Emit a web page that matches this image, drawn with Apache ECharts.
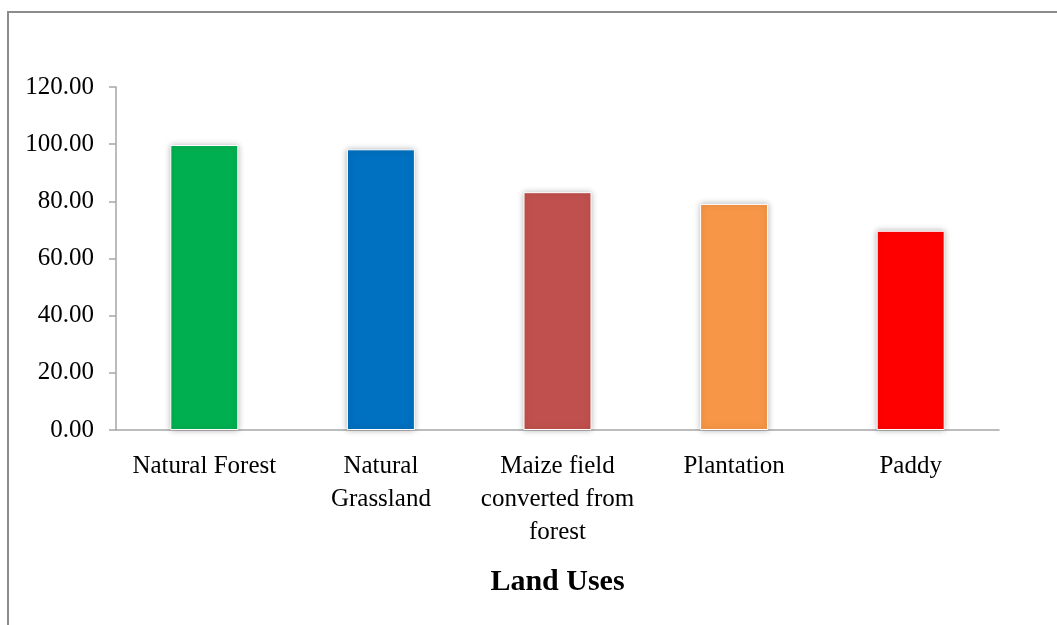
<!DOCTYPE html>
<html>
<head>
<meta charset="utf-8">
<script src="https://cdn.jsdelivr.net/npm/echarts@6/dist/echarts.min.js"></script>
<style>
  html, body { margin: 0; padding: 0; background: #fff; }
  #chart { width: 1057px; height: 625px; }
</style>
</head>
<body>
<div id="chart"></div>
<script>
const categories = ['Natural Forest', 'Natural\nGrassland', 'Maize field\nconverted from\nforest', 'Plantation', 'Paddy'];
const values = [99.7, 98.2, 83.2, 79.1, 69.7];
const barColors = ['#00B050', '#0070C0', '#C0504D', '#F79646', '#FF0000'];
const yTicks = { min: 0, max: 120, interval: 20 };
const xAxisTitle = 'Land Uses';

const chart = echarts.init(document.getElementById('chart'), null, { renderer: 'canvas' });
const serif = '"Liberation Serif", "Times New Roman", serif';

chart.setOption({
  animation: false,
  backgroundColor: '#ffffff',
  graphic: [{
    type: 'rect',
    shape: { x: 8, y: 12, width: 1200, height: 800 },
    style: { fill: 'none', stroke: '#8c8c8c', lineWidth: 2 },
    silent: true
  }],
  grid: { left: 116, right: 58, top: 87, bottom: 195, containLabel: false },
  xAxis: {
    type: 'category',
    data: categories,
    name: xAxisTitle,
    nameLocation: 'middle',
    nameGap: 137,
    nameTextStyle: { fontFamily: serif, fontSize: 30, fontWeight: 'bold', color: '#000', lineHeight: 30 },
    axisLine: { show: true, lineStyle: { color: '#a6a6a6', width: 1.5 } },
    axisTick: { show: false },
    axisLabel: { fontFamily: serif, fontSize: 25, color: '#000', lineHeight: 33, margin: 20, interval: 0, align: 'center' },
    splitLine: { show: false }
  },
  yAxis: {
    type: 'value',
    min: yTicks.min,
    max: yTicks.max,
    interval: yTicks.interval,
    axisLine: { show: true, lineStyle: { color: '#a6a6a6', width: 1.5 } },
    axisTick: { show: true, length: 7, lineStyle: { color: '#a6a6a6', width: 1.5 } },
    axisLabel: { fontFamily: serif, fontSize: 25, color: '#000', margin: 22, formatter: v => v.toFixed(2) },
    splitLine: { show: false }
  },
  series: [{
    type: 'bar',
    data: values.map((v, i) => ({ value: v, itemStyle: { color: barColors[i] } })),
    barWidth: '38.5%',
    itemStyle: {
      borderColor: '#ffffff',
      borderWidth: 1,
      shadowBlur: 6,
      shadowColor: 'rgba(0,0,0,0.28)'
    }
  }]
});
</script>
</body>
</html>
